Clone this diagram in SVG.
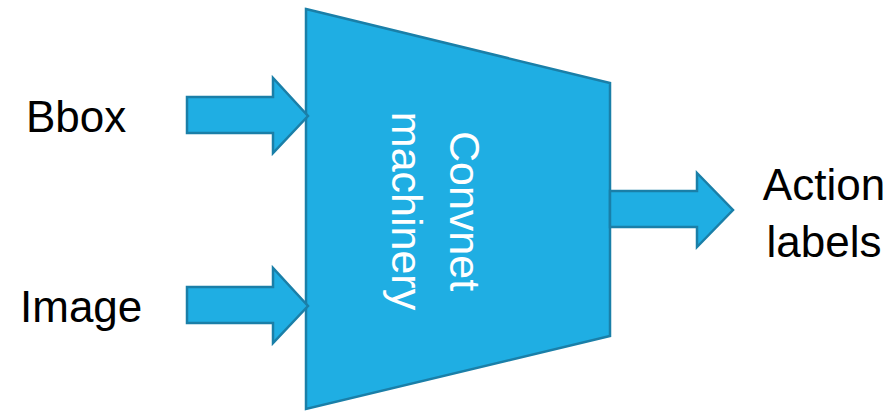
<svg xmlns="http://www.w3.org/2000/svg" width="895" height="411" viewBox="0 0 895 411">
<style>
.shape{fill:#1FAEE3;stroke:#1A7FA8;stroke-width:2.5;stroke-linejoin:miter}
.lbl{font-family:"Liberation Sans",Arial,sans-serif;font-size:44px;fill:#000}
.inner{font-family:"Liberation Sans",Arial,sans-serif;font-size:43px;fill:#fff;text-anchor:middle}
</style>
<rect width="895" height="411" fill="#fff"/>
<g id="convnet">
<polygon class="shape" points="306,9 610,83 610,336 306,409"/>
<text class="inner" transform="translate(450,211) rotate(90)">Convnet</text>
<text class="inner" transform="translate(392,211) rotate(90)">machinery</text>
</g>
<g id="connectors">
<polygon class="shape" points="187,97 273,97 273,78 308,116 273,153 273,133 187,133"/>
<polygon class="shape" points="187,287 273,287 273,268 308,306 273,343 273,323 187,323"/>
<polygon class="shape" points="610,191 697,191 697,173 733,210 697,247 697,227 610,227"/>
</g>
<g id="bbox"><text class="lbl" x="26" y="132">Bbox</text></g>
<g id="image"><text class="lbl" x="20" y="322">Image</text></g>
<g id="action"><text class="lbl" x="824" y="200" text-anchor="middle">Action</text><text class="lbl" x="824" y="257" text-anchor="middle">labels</text></g>
</svg>
